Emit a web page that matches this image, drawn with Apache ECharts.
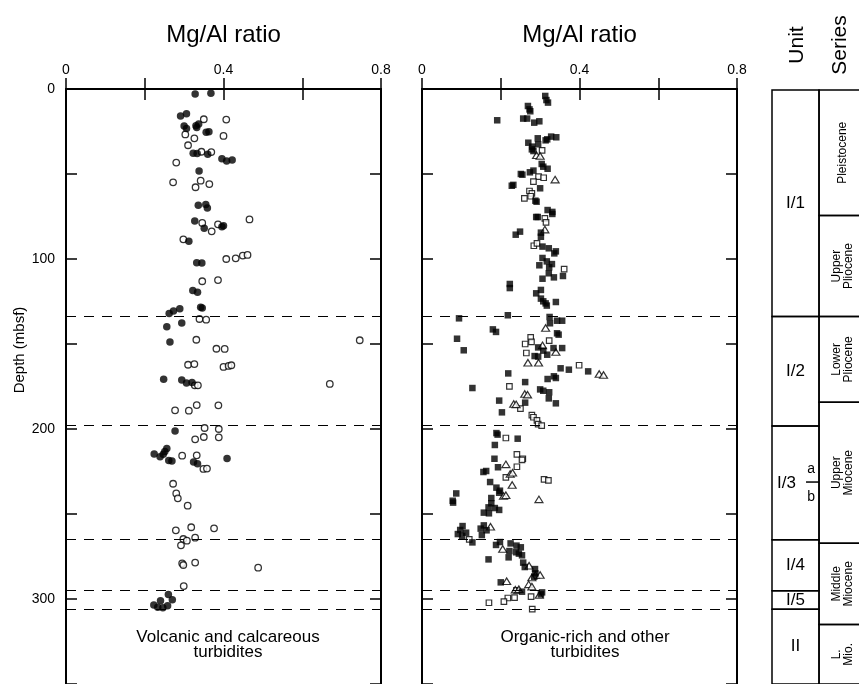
<!DOCTYPE html>
<html><head><meta charset="utf-8">
<script src="https://cdn.jsdelivr.net/npm/echarts@6/dist/echarts.min.js"></script>
<style>html,body{margin:0;padding:0;background:#fff}#c{width:859px;height:684px}</style>
</head><body><div id="c"></div>
<script>
// ---- data: [Mg/Al ratio, depth (mbsf)] ----
const volcanicFilled = [
[0.328,2.9],[0.368,2.5],[0.291,15.9],[0.306,14.5],[0.300,21.8],[0.306,23.3],[0.330,21.6],[0.337,20.6],[0.332,22.7],
[0.356,25.5],[0.363,25.1],[0.323,37.8],[0.333,38],[0.360,38.4],[0.396,41],[0.408,42.4],[0.422,41.8],[0.338,48.2],
[0.336,68.4],[0.355,67.9],[0.359,70],[0.327,77.6],[0.396,81],[0.400,80.4],[0.351,81.9],[0.312,89.6],[0.332,102.2],[0.345,102.4],
[0.322,118.6],[0.334,119.6],[0.289,129.2],[0.273,130.6],[0.262,132],[0.342,128.4],[0.346,128.8],[0.256,139.8],[0.294,137.6],
[0.264,148.8],[0.248,170.8],[0.294,171.2],[0.306,172.9],[0.320,172.7],[0.277,201.2],
[0.256,211.4],[0.251,213.3],[0.224,214.7],[0.239,216.3],[0.247,214.9],[0.261,218.6],[0.269,218.8],[0.324,219.4],[0.334,220.4],[0.409,217.3],
[0.260,297.3],[0.270,300.4],[0.240,301],[0.223,303.5],[0.233,304.9],[0.246,305.1],[0.258,303.9]
];
const calcareousOpen = [
[0.350,17.8],[0.407,18],[0.303,26.7],[0.326,29],[0.400,27.6],[0.310,33.1],[0.344,36.9],[0.369,37.1],[0.280,43.3],
[0.272,54.9],[0.342,53.9],[0.329,57.8],[0.364,55.9],[0.346,78.8],[0.466,76.7],[0.386,79.6],[0.370,83.7],[0.298,88.4],
[0.407,100],[0.431,99.6],[0.449,98],[0.461,97.6],[0.346,113.1],[0.386,112.4],[0.339,135.3],[0.356,135.7],
[0.331,147.5],[0.746,147.8],[0.382,152.8],[0.403,152.9],[0.310,162.2],[0.326,161.8],[0.400,163.5],[0.413,162.9],[0.420,162.5],
[0.327,174.3],[0.335,174.3],[0.670,173.5],[0.332,185.9],[0.387,186.1],[0.277,189],[0.312,189.2],
[0.352,199.4],[0.388,200],[0.350,204.7],[0.388,204.9],[0.328,206.1],[0.295,215.7],[0.332,215.5],[0.349,223.5],[0.358,223.3],
[0.272,232.2],[0.280,237.9],[0.284,240.8],[0.309,245.1],[0.279,259.6],[0.318,257.8],[0.376,258.4],[0.298,264.7],[0.307,265.7],
[0.328,263.9],[0.292,268.4],[0.295,279],[0.298,280],[0.328,278.6],[0.488,281.6],[0.299,292.4]
];
const organicFilled = [
[0.313,4.1],[0.316,6.5],[0.320,8],[0.269,10],[0.273,12],[0.275,13.1],[0.191,18.4],[0.257,17.4],[0.267,17.4],[0.285,19.8],[0.298,19],
[0.294,29],[0.314,30.2],[0.318,29.6],[0.328,28],[0.341,28.4],[0.270,31.6],[0.295,32.5],[0.280,33.9],[0.279,35.5],[0.283,36.5],
[0.304,44.1],[0.308,45.7],[0.319,46.9],[0.251,50],[0.255,50.4],[0.274,49],[0.283,48],[0.228,56.9],[0.232,56.4],[0.300,58.4],
[0.288,65.7],[0.291,66.3],[0.319,71.2],[0.331,73.5],[0.331,72.3],[0.290,75.3],[0.294,75.3],[0.249,83.9],[0.238,85.7],[0.302,84.5],
[0.302,86.9],[0.306,92.7],[0.322,93.7],[0.336,96.7],[0.340,95.5],[0.306,99.4],[0.317,101.4],[0.330,103],[0.298,103.7],[0.323,104.9],
[0.322,108.4],[0.306,111.6],[0.335,110.8],[0.358,110],[0.223,114.7],[0.223,117.1],[0.302,118.2],[0.290,120.2],[0.302,123.3],
[0.308,124.9],[0.314,126.1],[0.317,127.4],[0.340,125.3],[0.218,133.1],[0.094,134.9],[0.324,134.1],[0.343,136.3],[0.356,136.3],
[0.325,137.8],[0.180,141.4],[0.188,142.9],[0.089,146.9],[0.106,153.7],[0.343,143.7],[0.347,144.5],[0.295,152],[0.308,153.9],
[0.334,152.4],[0.356,152.4],[0.318,156.3],[0.286,157.1],[0.295,157.4],[0.352,164.3],[0.373,165.1],[0.422,166.1],[0.219,167.3],
[0.319,170.6],[0.335,169],[0.340,170],[0.262,172.4],[0.128,175.9],[0.300,176.7],[0.308,177.5],[0.323,178.4],[0.322,182],
[0.340,184.9],[0.196,183.3],[0.262,184.5],[0.203,190.2],[0.189,202.4],[0.192,203.3],[0.243,205.7],[0.185,209.4],[0.184,217.5],
[0.193,222.5],[0.156,225.3],[0.163,224.7],[0.173,231.2],[0.189,234.5],[0.198,236.3],[0.196,237.5],[0.087,237.9],[0.078,242.2],
[0.079,243.3],[0.176,240.6],[0.176,243.7],[0.169,246.1],[0.185,246.5],[0.196,247.6],[0.157,249.2],[0.170,249.6],[0.157,256.7],
[0.149,258.6],[0.164,259.6],[0.152,262.4],[0.103,257.1],[0.097,259.4],[0.112,261],[0.091,261.8],[0.102,262.9],[0.128,266.7],
[0.188,268.2],[0.198,266.5],[0.225,267.3],[0.240,268.6],[0.251,269.6],[0.222,271.8],[0.239,272.5],[0.246,273.3],[0.254,274.3],
[0.220,275.5],[0.169,276.7],[0.257,278.6],[0.261,281.2],[0.287,282.4],[0.288,284.9],[0.285,286.9],[0.200,290.2],[0.254,295.7],
[0.305,296.1],[0.302,297.3]
];
const otherOpenSquare = [
[0.305,36.1],[0.296,51.6],[0.309,52.2],[0.283,54.5],[0.273,60],[0.279,61.4],[0.276,63.1],[0.260,64.3],[0.312,76.1],[0.315,78.4],
[0.284,92.2],[0.292,90.8],[0.361,106],[0.276,146.1],[0.262,150],[0.278,148.8],[0.323,148],[0.265,155.3],[0.399,162.5],[0.222,174.9],
[0.250,188],[0.279,191.8],[0.283,193.1],[0.292,194.9],[0.295,197.1],[0.304,198],[0.213,205.3],[0.241,214.9],[0.256,217.5],
[0.254,218.2],[0.241,222.2],[0.213,228.4],[0.310,229.6],[0.321,230.2],[0.120,264.9],[0.240,294.9],[0.277,298.6],[0.235,299.2],
[0.218,299.4],[0.208,301.6],[0.170,302.2],[0.280,305.9]
];
const otherTriangle = [
[0.291,39],[0.300,39.4],[0.338,53.3],[0.312,82.7],[0.314,140.6],[0.306,150.8],[0.340,154.7],[0.269,161],[0.296,161],
[0.450,167.6],[0.461,168.2],[0.261,179.4],[0.268,179.8],[0.233,185.3],[0.239,185.5],[0.213,220.8],[0.224,226.5],[0.230,225.7],
[0.229,232.9],[0.207,239.4],[0.213,239],[0.297,241.4],[0.174,257.5],[0.205,270.6],[0.272,280.4],[0.288,285.9],[0.300,285.9],
[0.279,287.4],[0.271,291.4],[0.279,292.7],[0.215,289.6],[0.237,294.5],[0.298,297.6],[0.246,294.3]
];
const unitBoundaryDepths = [133.5, 198, 265, 295, 306];
const unitNames = ['I/1','I/2','I/3','I/4','I/5','II'];
const unitTops = [0, 133.5, 198, 265, 295, 306];
const unitBottoms = [133.5, 198, 265, 295, 306, 350];
const subunitDepth = 231;
const seriesNames = ['Pleistocene','Upper\nPliocene','Lower\nPliocene','Upper\nMiocene','Middle\nMiocene','L.\nMio.'];
const seriesTops = [0, 74, 133.5, 184, 267, 315];
const seriesBottoms = [74, 133.5, 184, 267, 315, 350];
const xTickLabels = ['0','0.4','0.8'];
const depthTickLabels = [0,100,200,300];

const FONT = 'Liberation Sans';
const chart = echarts.init(document.getElementById('c'), null, {renderer:'canvas'});

function xTop(grid){
  return {gridIndex:grid, type:'value', position:'top', min:0, max:0.8, interval:0.2,
    name:'Mg/Al ratio', nameLocation:'middle', nameGap:42,
    nameTextStyle:{fontFamily:FONT,fontSize:24,color:'#000'},
    axisLine:{lineStyle:{color:'#000',width:2}},
    axisTick:{inside:true,length:11,lineStyle:{color:'#000',width:1.5}},
    axisLabel:{margin:12,fontFamily:FONT,fontSize:14,color:'#000',
      formatter:v=>{const s=xTickLabels.find(t=>Math.abs(parseFloat(t)-v)<1e-6);return s===undefined?'':s;}},
    splitLine:{show:false}};
}
function xBottom(grid){
  return {gridIndex:grid, type:'value', position:'bottom', min:0, max:0.8, interval:0.2,
    axisLine:{lineStyle:{color:'#000',width:2}},
    axisTick:{inside:true,length:11,lineStyle:{color:'#000',width:1.5}},
    axisLabel:{show:false}, splitLine:{show:false}};
}
function yAx(grid,pos,labels){
  return {gridIndex:grid, type:'value', inverse:true, position:pos, min:0, max:350, interval:50,
    axisLine:{show:true,onZero:false,lineStyle:{color:'#000',width:2}},
    axisTick:{show:true,inside:true,length:11,lineStyle:{color:'#000',width:1.5}},
    axisLabel:{show:labels,margin:11,fontFamily:FONT,fontSize:14,color:'#000',
      formatter:v=>depthTickLabels.indexOf(v)>=0?String(v):''},
    splitLine:{show:false}};
}
const dashed = {silent:true, symbol:'none', label:{show:false},
  lineStyle:{color:'#000',type:[10,8],width:1.2},
  data: unitBoundaryDepths.map(d=>({yAxis:d}))};

function columnRender(tops,bottoms,names,x0,x1,fs,rot){
  return function(params, api){
    const i = params.dataIndex;
    const p0 = api.coord([x0, tops[i]]);
    const p1 = api.coord([x1, bottoms[i]]);
    const children = [{type:'rect', shape:{x:p0[0],y:p0[1],width:p1[0]-p0[0],height:p1[1]-p0[1]},
      style:{fill:'none',stroke:'#000',lineWidth:1.5}}];
    const cx=(p0[0]+p1[0])/2, cy=(p0[1]+p1[1])/2;
    children.push({type:'text', x:cx, y:cy, rotation:rot?Math.PI/2:0,
      style:{text:names[i],fontFamily:FONT,fontSize:fs,fill:'#000',align:'center',verticalAlign:'middle',lineHeight:fs*0.95}});
    if(names[i]==='I/3'){
      const t = api.coord([x1, subunitDepth]);
      children.push({type:'line', shape:{x1:t[0]-13,y1:t[1],x2:t[0],y2:t[1]}, style:{stroke:'#000',lineWidth:1.5}});
      children.push({type:'text', x:t[0]-8, y:t[1]-13, style:{text:'a',fontFamily:FONT,fontSize:14,fill:'#000',align:'center',verticalAlign:'middle'}});
      children.push({type:'text', x:t[0]-8, y:t[1]+15, style:{text:'b',fontFamily:FONT,fontSize:14,fill:'#000',align:'center',verticalAlign:'middle'}});
      children[1].x = cx - 9;
    }
    return {type:'group', children};
  };
}

chart.setOption({
  animation:false,
  backgroundColor:'#fff',
  textStyle:{fontFamily:FONT},
  title:[
    {text:'Volcanic and calcareous\nturbidites', left:223, top:625, textAlign:'center',
      textStyle:{fontFamily:FONT,fontSize:17,fontWeight:'normal',color:'#000',lineHeight:15}},
    {text:'Organic-rich and other\nturbidites', left:580, top:625, textAlign:'center',
      textStyle:{fontFamily:FONT,fontSize:17,fontWeight:'normal',color:'#000',lineHeight:15}}
  ],
  graphic:[
    {type:'text', x:20, y:350, rotation:Math.PI/2,
      style:{text:'Depth (mbsf)',fontFamily:FONT,fontSize:15,fill:'#000',align:'center',verticalAlign:'middle'}},
    {type:'text', x:797, y:45, rotation:Math.PI/2,
      style:{text:'Unit',fontFamily:FONT,fontSize:21,fill:'#000',align:'center',verticalAlign:'middle'}},
    {type:'text', x:840, y:45, rotation:Math.PI/2,
      style:{text:'Series',fontFamily:FONT,fontSize:21,fill:'#000',align:'center',verticalAlign:'middle'}}
  ],
  grid:[
    {left:66, top:89, width:315, height:595},
    {left:422, top:89, width:315, height:595},
    {left:772, top:90, right:0, height:594}
  ],
  xAxis:[ xTop(0), xBottom(0), xTop(1), xBottom(1),
    {gridIndex:2,type:'value',min:0,max:1.85,show:false} ],
  yAxis:[ yAx(0,'left',true), yAx(0,'right',false), yAx(1,'left',false), yAx(1,'right',false),
    {gridIndex:2,type:'value',inverse:true,min:0,max:350,show:false} ],
  series:[
    {type:'scatter', xAxisIndex:0, yAxisIndex:0, data:calcareousOpen, symbol:'circle', symbolSize:6.5,
      itemStyle:{color:'#fff',borderColor:'#000',borderWidth:1.3}, markLine:dashed, z:3},
    {type:'scatter', xAxisIndex:0, yAxisIndex:0, data:volcanicFilled, symbol:'circle', symbolSize:7.5,
      itemStyle:{color:'#000'}, z:4},
    {type:'scatter', xAxisIndex:2, yAxisIndex:2, data:otherOpenSquare, symbol:'rect', symbolSize:5.5,
      itemStyle:{color:'#fff',borderColor:'#000',borderWidth:1.2}, markLine:dashed, z:3},
    {type:'scatter', xAxisIndex:2, yAxisIndex:2, data:otherTriangle, symbol:'triangle', symbolSize:[8,6.5],
      itemStyle:{color:'#fff',borderColor:'#000',borderWidth:1.2}, z:3},
    {type:'scatter', xAxisIndex:2, yAxisIndex:2, data:organicFilled, symbol:'rect', symbolSize:6.5,
      itemStyle:{color:'#000'}, z:4},
    {type:'custom', xAxisIndex:4, yAxisIndex:4, clip:false, data:unitNames.map((n,i)=>[0,unitTops[i]]),
      renderItem:columnRender(unitTops,unitBottoms,unitNames,0,1,17,false), silent:true},
    {type:'custom', xAxisIndex:4, yAxisIndex:4, clip:false, data:seriesNames.map((n,i)=>[1,seriesTops[i]]),
      renderItem:columnRender(seriesTops,seriesBottoms,seriesNames,1,2,12,true), silent:true}
  ]
});
</script>
</body></html>
